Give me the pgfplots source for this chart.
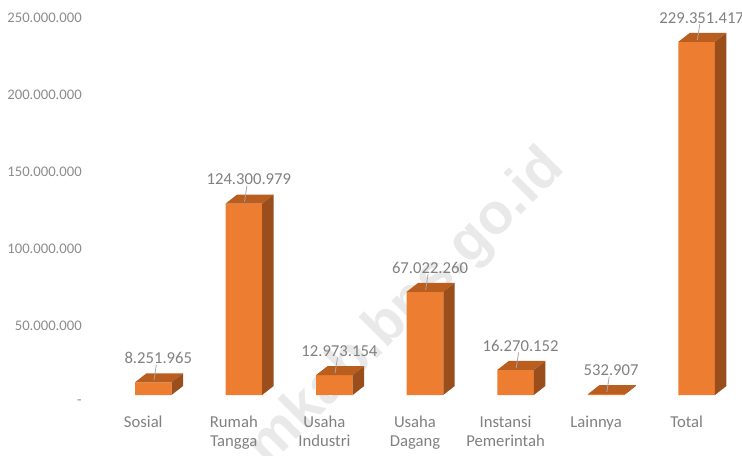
\documentclass[border=0pt]{standalone}
\usepackage{fontspec}
\setmainfont{Carlito}
\newfontfamily\wmfont{Liberation Sans}
\usepackage{pgfplots}
\pgfplotsset{compat=1.18}
\usepackage{pgfplotstable}

\definecolor{barfront}{HTML}{ED7D31}
\definecolor{bartop}{HTML}{BA5E20}
\definecolor{barside}{HTML}{9A4E1C}
\definecolor{labgray}{HTML}{808080}
\definecolor{axgray}{HTML}{8C8C8C}
\definecolor{leader}{HTML}{A6A6A6}
\definecolor{wmark}{HTML}{E9E9E9}

% values in millions, labels as printed
\pgfplotstableread{
x v lab
0 8.251965 8.251.965
1 124.300979 124.300.979
2 12.973154 12.973.154
3 67.022260 67.022.260
4 16.270152 16.270.152
5 0.532907 532.907
6 229.351417 229.351.417
}\datatable

% top and side faces of a 3d bar, drawn at the top of the front face
\pgfdeclareplotmark{box3d}{%
  \pgfmathsetlengthmacro\h{\yv*1.155pt}%
  \pgfpathmoveto{\pgfqpoint{-13.7pt}{0pt}}%
  \pgfpathlineto{\pgfqpoint{13.7pt}{0pt}}%
  \pgfpathlineto{\pgfqpoint{22.3pt}{6.75pt}}%
  \pgfpathlineto{\pgfqpoint{-5.1pt}{6.75pt}}%
  \pgfpathclose
  \pgfsetfillcolor{bartop}\pgfusepath{fill}%
  \pgfpathmoveto{\pgfqpoint{13.7pt}{0pt}}%
  \pgfpathlineto{\pgfqpoint{22.3pt}{6.75pt}}%
  \pgfpathlineto{\pgfpoint{22.3pt}{6.75pt-\h}}%
  \pgfpathlineto{\pgfpoint{13.7pt}{-\h}}%
  \pgfpathclose
  \pgfsetfillcolor{barside}\pgfusepath{fill}%
  \pgfpathmoveto{\pgfqpoint{0.5pt}{1.5pt}}%
  \pgfpathlineto{\pgfqpoint{2.3pt}{13.2pt}}%
  \pgfsetstrokecolor{leader}\pgfsetlinewidth{0.6pt}\pgfusepath{stroke}%
}

\begin{document}
\begin{tikzpicture}
\node[rotate=45, text=wmark, font=\wmfont\bfseries\fontsize{43}{43}\selectfont]
  at (224.25pt,65.25pt) {mkab.bps.go.id};
\begin{axis}[
  scale only axis,
  width=475.5pt, height=288.75pt,
  xmin=-0.5, xmax=6.5, ymin=0, ymax=250,
  clip=false,
  axis line style={draw=none},
  tick style={draw=none},
  major tick length=0pt,
  xtick={0,...,6},
  xticklabels={Sosial, Rumah\\Tangga, Usaha\\Industri, Usaha\\Dagang, Instansi\\Pemerintah, Lainnya, Total},
  xticklabel style={align=center, anchor=north, inner sep=0pt, xshift=-7.5pt, yshift=-15.5pt,
    text=labgray, font=\fontsize{12.5}{14.5}\selectfont},
  ytick={0,50,100,150,200,250},
  yticklabels={-, 50.000.000, 100.000.000, 150.000.000, 200.000.000, 250.000.000},
  yticklabel style={anchor=east, inner sep=0pt, xshift=-19.5pt, yshift=-5.6pt,
    text=axgray, font=\fontsize{11}{13}\selectfont},
]
\addplot[only marks, mark=box3d,
  visualization depends on={rawy \as \yv}]
  table[x=x, y=v] {\datatable};
\addplot[ybar, bar width=27.4pt, bar shift=0pt, fill=barfront, draw=none,
  nodes near coords, point meta=explicit symbolic,
  every node near coord/.append style={anchor=base, inner sep=0pt,
    xshift=3.75pt, yshift=14pt, text=labgray, font=\fontsize{12.5}{14.5}\selectfont}]
  table[x=x, y=v, meta=lab] {\datatable};
\end{axis}
\pgfresetboundingbox
\path[use as bounding box] (-81pt,-45pt) rectangle (475.5pt,296.25pt);
\end{tikzpicture}
\end{document}
